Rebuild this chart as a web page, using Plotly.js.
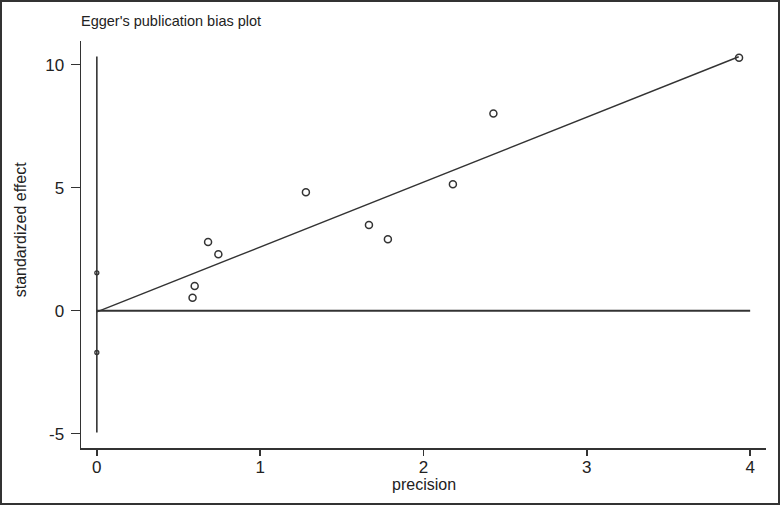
<!DOCTYPE html>
<html>
<head>
<meta charset="utf-8">
<script src="https://cdn.plot.ly/plotly-3.0.1.min.js"></script>
<style>
  body { margin: 0; background: #fff; }
  #egger { width: 776px; height: 501px; border: 2px solid #333; }
</style>
</head>
<body>
<div id="egger"></div>
<script>
// study points
var precision = [0.586, 0.599, 0.681, 0.744, 1.280, 1.666, 1.782, 2.180, 2.428, 3.932];
var stdEffect = [0.53, 1.00, 2.79, 2.29, 4.81, 3.48, 2.90, 5.14, 8.01, 10.28];

// regression line ends
var fitX = [0, 3.93];
var fitY = [-0.05, 10.32];

// intercept CI at precision 0
var ciX = [0, 0];
var ciY = [-4.95, 10.33];
var ciMarkY = [1.54, -1.70];

// zero reference
var zeroX = [0, 4];
var zeroY = [0, 0];

// tick labels (plain hyphen, like the original)
var xTicks = [0, 1, 2, 3, 4];
var yTicks = [-5, 0, 5, 10];
var yTickText = ['-5', '0', '5', '10'];

var ink = '#333';
var fnt = 'Liberation Sans, Arial, sans-serif';

var traces = [
  {x: ciX, y: ciY, mode: 'lines', line: {color: ink, width: 1.6}, hoverinfo: 'skip'},
  {x: zeroX, y: zeroY, mode: 'lines', line: {color: ink, width: 2}, hoverinfo: 'skip'},
  {x: fitX, y: fitY, mode: 'lines', line: {color: ink, width: 1.4}, hoverinfo: 'skip'},
  {x: [0, 0], y: ciMarkY, mode: 'markers', cliponaxis: false,
   marker: {symbol: 'circle-open', size: 4, color: ink, line: {width: 1.3}}},
  {x: precision, y: stdEffect, mode: 'markers', cliponaxis: false,
   marker: {symbol: 'circle-open', size: 7, color: ink, line: {width: 1.5}}}
];

var layout = {
  width: 776,
  height: 501,
  margin: {l: 79, r: 12, t: 39, b: 55},
  paper_bgcolor: '#fff',
  plot_bgcolor: '#fff',
  showlegend: false,
  font: {family: fnt, color: '#222', size: 17},
  title: {
    text: "Egger's publication bias plot",
    font: {family: fnt, size: 14.5, color: '#222'},
    xref: 'paper', x: 0, xanchor: 'left',
    yref: 'container', y: 0.962, yanchor: 'middle'
  },
  xaxis: {
    range: [-0.097, 4.097],
    tickvals: xTicks,
    showgrid: false, zeroline: false,
    showline: true, linecolor: ink, linewidth: 1.5,
    ticks: 'outside', ticklen: 6, tickwidth: 1.5, tickcolor: ink,
    ticklabelstandoff: -3,
    tickfont: {size: 17}
  },
  yaxis: {
    range: [-5.58, 10.96],
    tickvals: yTicks,
    ticktext: yTickText,
    showgrid: false, zeroline: false,
    showline: true, linecolor: ink, linewidth: 1.5,
    ticks: 'outside', ticklen: 9, tickwidth: 1.5, tickcolor: ink,
    ticklabelstandoff: 3,
    tickfont: {size: 17}
  },
  annotations: [{
    text: 'standardized effect', textangle: -90,
    xref: 'paper', yref: 'paper',
    x: -0.089, y: 0.535, xanchor: 'center', yanchor: 'middle',
    showarrow: false, font: {size: 16, color: '#222'}
  }, {
    text: 'precision',
    xref: 'paper', yref: 'paper',
    x: 0.5, y: -0.09, xanchor: 'center', yanchor: 'middle',
    showarrow: false, font: {size: 16, color: '#222'}
  }]
};

Plotly.newPlot('egger', traces, layout, {staticPlot: true});
</script>
</body>
</html>
